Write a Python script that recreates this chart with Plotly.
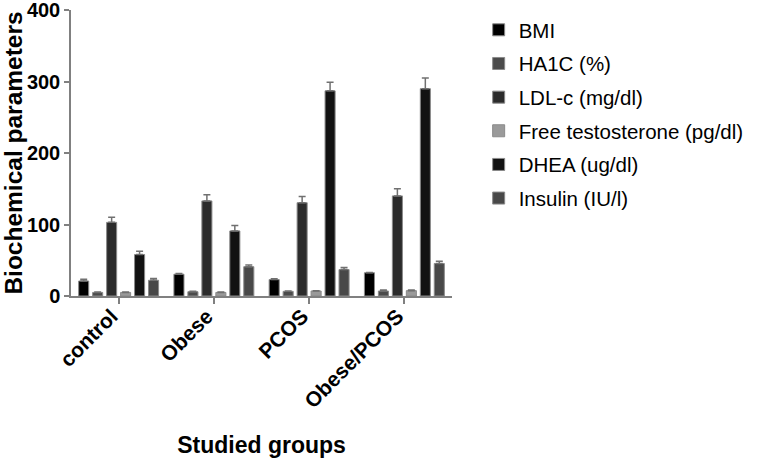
import plotly.graph_objects as go

groups = ["control", "Obese", "PCOS", "Obese/PCOS"]
series_names = ["BMI", "HA1C (%)", "LDL-c (mg/dl)", "Free testosterone (pg/dl)", "DHEA (ug/dl)", "Insulin (IU/l)"]
bmi = [21, 30.5, 23, 32.5]
bmi_err = [2.5, 1, 1, 0.5]
ha1c = [5, 6, 6.5, 7]
ha1c_err = [0.5, 0.5, 0.5, 1.5]
ldl = [103, 133, 130.5, 140]
ldl_err = [7, 8.5, 8.5, 10]
free_t = [5, 5, 7, 7.5]
free_t_err = [0.5, 0.5, 0.5, 1]
dhea = [58, 91, 287, 290]
dhea_err = [4.5, 7.5, 12, 15]
insulin = [22, 41, 37, 45.5]
insulin_err = [2.5, 2.5, 3, 3]
colors = ["#000000", "#4b4b4b", "#2b2b2b", "#9a9a9a", "#121212", "#484848"]

values = [bmi, ha1c, ldl, free_t, dhea, insulin]
errors = [bmi_err, ha1c_err, ldl_err, free_t_err, dhea_err, insulin_err]

FONT = "Arial, Liberation Sans, sans-serif"

fig = go.Figure()
for name, vals, errs, col in zip(series_names, values, errors, colors):
    fig.add_trace(go.Bar(
        name=name, x=groups, y=vals, legendgroup=name,
        marker=dict(color=col, line=dict(color="#8a8a8a", width=1)),
        error_y=dict(type="data", array=errs, arrayminus=[0] * len(errs), symmetric=False,
                     color="#707070", thickness=1.5, width=3.5),
    ))

fig.update_layout(
    width=772, height=458,
    paper_bgcolor="white", plot_bgcolor="white",
    barmode="group", bargap=0.12, bargroupgap=0.28,
    margin=dict(l=71, r=320, t=10, b=162),
    font=dict(family=FONT, color="#000000"),
    legend=dict(x=1.07, y=1.0, xanchor="left", yanchor="top",
                font=dict(family=FONT, size=20.5, color="#000000"),
                tracegroupgap=4, itemwidth=30, bgcolor="rgba(0,0,0,0)"),
    xaxis=dict(
        range=[-0.5, 3.5], showline=True, linecolor="#808080", linewidth=1.5,
        ticks="outside", ticklen=6, tickcolor="#808080", tickwidth=1.5,
        tickangle=-45, tickfont=dict(family=FONT, size=21, weight="bold"),
        ticklabelstandoff=-8, ticklabelshift=-7, automargin=False,
        showgrid=False, zeroline=False,
        title=dict(text="Studied groups", font=dict(family=FONT, size=23, weight="bold"), standoff=26),
    ),
    yaxis=dict(
        range=[0, 400.01], tickvals=[0, 100, 200, 300, 400], showline=True, linecolor="#808080", linewidth=1.5,
        ticks="outside", ticklen=5, tickcolor="#808080", tickwidth=1.5,
        tickfont=dict(family=FONT, size=20, weight="bold"), automargin=False,
        ticklabeloverflow="allow",
        showgrid=False, zeroline=False,
        title=dict(text="Biochemical parameters", font=dict(family=FONT, size=24.5, weight="bold"), standoff=4),
    ),
)

fig.write_html("out.html", config={"displayModeBar": False},
               post_script="document.body.style.margin='0';document.body.style.padding='0';")
